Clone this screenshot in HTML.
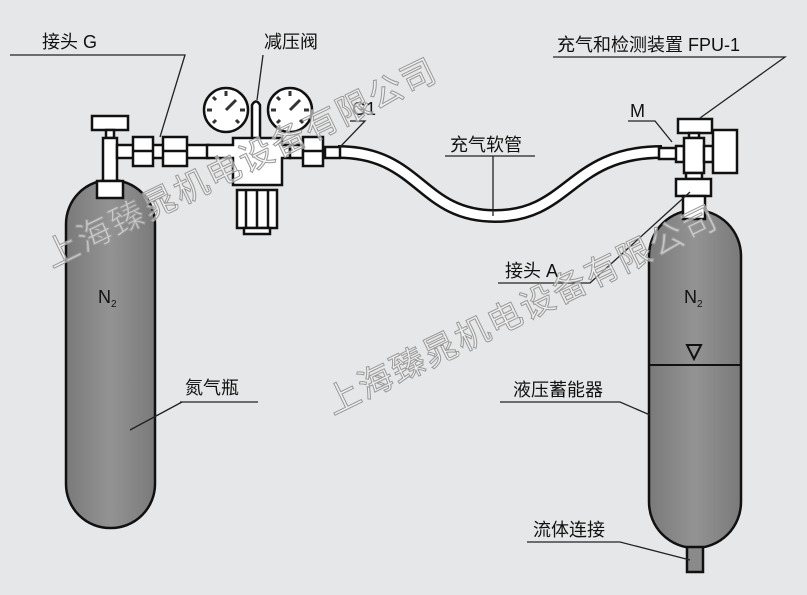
<!DOCTYPE html>
<html><head><meta charset="utf-8"><style>
body{margin:0;background:#e6e7e8}
svg{display:block}
text{font-family:"Liberation Sans","Noto Sans CJK SC",sans-serif}
</style></head><body>
<svg width="807" height="595" viewBox="0 0 807 595" xmlns="http://www.w3.org/2000/svg">
<defs>
<linearGradient id="g" x1="0" x2="1" y1="0" y2="0">
<stop offset="0" stop-color="#7a7a7a"/><stop offset="0.5" stop-color="#939393"/><stop offset="1" stop-color="#7a7a7a"/>
</linearGradient>
</defs>
<rect width="807" height="595" fill="#e6e7e8"/>
<g stroke="#111" stroke-width="2.5">
<rect x="66" y="180" width="89" height="348" rx="44" fill="url(#g)"/>
<rect x="649" y="210" width="92" height="338" rx="46" fill="url(#g)"/>
<rect x="687" y="547" width="16" height="25" fill="#8a8a8a"/>
</g>
<line x1="649" y1="365" x2="741" y2="365" stroke="#111" stroke-width="2"/>
<path d="M687 345 L701 345 L694 359 Z" fill="none" stroke="#111" stroke-width="2"/>
<path d="M338 152 C420 152 420 216 495 216 C570 216 570 152 662 152" fill="none" stroke="#111" stroke-width="14"/>
<path d="M338 152 C420 152 420 216 495 216 C570 216 570 152 662 152" fill="none" stroke="#fff" stroke-width="9"/>
<g fill="#fff" stroke="#111" stroke-width="2.5">
<rect x="92" y="116" width="36" height="14"/>
<rect x="106" y="130" width="8" height="8"/>
<rect x="103" y="138" width="14" height="43"/>
<rect x="97" y="181" width="26" height="17"/>
<rect x="117" y="145" width="92" height="13"/>
<rect x="133" y="137" width="20" height="29"/>
<rect x="163" y="137" width="24" height="29"/>
<line x1="133" y1="151" x2="153" y2="151"/><line x1="163" y1="151" x2="187" y2="151"/>
<circle cx="226" cy="110" r="22"/>
<circle cx="290" cy="110" r="22"/>
<path d="M252 140 L252 105 Q256 98 260 105 L260 140 Z"/>
<path d="M207 145 L233 145 L233 138 L282 138 L282 145 L290 145 L290 158 L282 158 L282 185 L233 185 L233 158 L207 158 Z"/>
<rect x="237" y="190" width="40" height="38"/>
<rect x="244" y="228" width="26" height="6"/>
<line x1="246" y1="190" x2="246" y2="228"/><line x1="257" y1="190" x2="257" y2="228"/><line x1="268" y1="190" x2="268" y2="228"/>
<rect x="290" y="145" width="13" height="13"/>
<rect x="303" y="137" width="20" height="29"/>
<line x1="303" y1="151" x2="323" y2="151"/>
<rect x="325" y="147" width="15" height="11"/>
<rect x="678" y="119" width="34" height="14"/>
<rect x="689" y="133" width="10" height="5"/>
<rect x="659" y="148" width="27" height="11"/>
<rect x="676" y="146" width="8" height="16"/>
<rect x="684" y="138" width="20" height="35"/>
<rect x="704" y="146" width="9" height="16"/>
<rect x="713" y="130" width="24" height="43"/>
<rect x="686" y="173" width="16" height="6"/>
<rect x="676" y="179" width="35" height="17"/>
<rect x="683" y="196" width="22" height="23"/>
</g>
<g stroke="#333" stroke-width="3" fill="none">
<path d="M226 110 L236 100 M226 96 L226 91 M212 110 L207 110 M240 110 L245 110 M216 100 L213 97 M236 120 L239 123 M216 120 L213 123"/>
<path d="M290 110 L300 100 M290 96 L290 91 M276 110 L271 110 M304 110 L309 110 M280 100 L277 97 M300 120 L303 123 M280 120 L277 123"/>
</g>
<g stroke="#222" stroke-width="1.3" fill="none">
<path d="M10 55 L185 55 L160 137"/>
<path d="M263 55 L257 100"/>
<path d="M553 57 L785 57 L700 118"/>
<path d="M628 121 L655 121 L672 142"/>
<path d="M350 121 L365 121 L340 147"/>
<path d="M445 156 L535 156 M493 156 L493 216"/>
<path d="M498 283 L590 283 L690 192"/>
<path d="M180 402 L258 402 M182 402 L130 430"/>
<path d="M500 402 L620 402 L650 415"/>
<path d="M527 542 L620 542 L690 560"/>
</g>
<g font-size="18" fill="#111">
<text x="42" y="48">接头 G</text>
<text x="264" y="48">减压阀</text>
<text x="557" y="51">充气和检测装置 FPU-1</text>
<text x="630" y="117">M</text>
<text x="352" y="115">G1</text>
<text x="450" y="151">充气软管</text>
<text x="505" y="277">接头 A</text>
<text x="185" y="394">氮气瓶</text>
<text x="513" y="396">液压蓄能器</text>
<text x="533" y="536">流体连接</text>
<text x="98" y="303">N<tspan font-size="10" dy="4">2</tspan></text>
<text x="684" y="303">N<tspan font-size="10" dy="4">2</tspan></text>
</g>
<g font-size="34" fill="#f4f4f4" fill-opacity="0.6" stroke="#999" stroke-width="1" font-family="'Noto Serif CJK SC','WenQuanYi Zen Hei',serif">
<text transform="translate(52,268) rotate(-26)" textLength="430">上海臻晁机电设备有限公司</text>
<text transform="translate(333,415) rotate(-26)" textLength="430">上海臻晁机电设备有限公司</text>
</g>
</svg>
</body></html>
